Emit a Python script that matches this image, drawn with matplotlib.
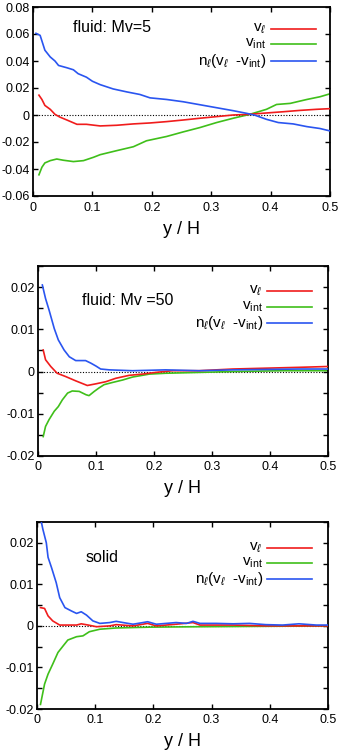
import matplotlib
matplotlib.use("Agg")
import matplotlib.pyplot as plt
import numpy as np
from matplotlib.ticker import FixedLocator, FixedFormatter, MultipleLocator

plt.rcParams['font.family'] = ['Liberation Sans', 'DejaVu Sans']
plt.rcParams['axes.unicode_minus'] = False
plt.rcParams['mathtext.fontset'] = 'custom'
plt.rcParams['mathtext.rm'] = 'Liberation Sans'
plt.rcParams['mathtext.it'] = 'Liberation Sans:italic'
plt.rcParams['mathtext.bf'] = 'Liberation Sans:bold'

# ---------------- Panel 1: fluid Mv=5 ----------------
p1_blue_x = [0.005, 0.012, 0.02, 0.029, 0.037, 0.043, 0.057, 0.068, 0.076, 0.09, 0.10, 0.113, 0.135, 0.158,
             0.18, 0.197, 0.225, 0.253, 0.281, 0.309, 0.337, 0.36, 0.374, 0.393, 0.413, 0.438, 0.461, 0.483, 0.5]
p1_blue_y = [0.0605, 0.059, 0.048, 0.043, 0.040, 0.0367, 0.035, 0.0335, 0.0306, 0.028, 0.025, 0.0225, 0.0193,
             0.0171, 0.0152, 0.0127, 0.0115, 0.0098, 0.0076, 0.0054, 0.0032, 0.0012, -0.0002, -0.0032, -0.0056,
             -0.0066, -0.0086, -0.010, -0.0118]
p1_red_x = [0.01, 0.015, 0.02, 0.029, 0.037, 0.045, 0.057, 0.074, 0.09, 0.113, 0.141, 0.169, 0.197, 0.225,
            0.253, 0.281, 0.309, 0.337, 0.365, 0.393, 0.421, 0.449, 0.477, 0.5]
p1_red_y = [0.0147, 0.0115, 0.0071, 0.0042, 0.0005, -0.0015, -0.0037, -0.0069, -0.0069, -0.0081, -0.0076,
            -0.0066, -0.0059, -0.0049, -0.0037, -0.0024, -0.0012, 0.0, 0.0005, 0.0015, 0.0024, 0.0034, 0.0042,
            0.0047]
p1_green_x = [0.01, 0.015, 0.02, 0.029, 0.04, 0.051, 0.068, 0.085, 0.102, 0.113, 0.141, 0.169, 0.191, 0.225,
              0.253, 0.281, 0.309, 0.337, 0.365, 0.393, 0.41, 0.433, 0.461, 0.483, 0.5]
p1_green_y = [-0.0443, -0.0387, -0.0355, -0.0338, -0.0326, -0.0335, -0.0345, -0.0338, -0.0313, -0.0294,
              -0.0264, -0.0235, -0.0191, -0.0159, -0.0125, -0.0093, -0.0056, -0.0024, 0.0005, 0.0042, 0.0078,
              0.0086, 0.0115, 0.0135, 0.0157]

# ---------------- Panel 2: fluid Mv=50 ----------------
p2_blue_x = [0.0075, 0.013, 0.019, 0.028, 0.035, 0.045, 0.054, 0.065, 0.082, 0.091, 0.1, 0.108, 0.123, 0.163,
             0.22, 0.278, 0.336, 0.393, 0.45, 0.5]
p2_blue_y = [0.0205, 0.0173, 0.0146, 0.0102, 0.0075, 0.0051, 0.0035, 0.0026, 0.0026, 0.002, 0.0013, 0.0006,
             0.0004, 0.0002, 0.0004, 0.0002, 0.0004, 0.0005, 0.0006, 0.0006]
p2_red_x = [0.009, 0.013, 0.022, 0.033, 0.048, 0.065, 0.085, 0.1, 0.117, 0.134, 0.157, 0.18, 0.203, 0.232,
            0.278, 0.336, 0.393, 0.45, 0.5]
p2_red_y = [0.0051, 0.0028, 0.0012, -0.0004, -0.0012, -0.0022, -0.0033, -0.0029, -0.0024, -0.0016, -0.0009,
            -0.0006, -0.0002, 0.0002, 0.0002, 0.0006, 0.0008, 0.001, 0.0012]
p2_green_x = [0.009, 0.013, 0.019, 0.028, 0.035, 0.042, 0.051, 0.059, 0.071, 0.083, 0.088, 0.097, 0.105,
              0.114, 0.128, 0.146, 0.163, 0.192, 0.22, 0.278, 0.336, 0.422, 0.5]
p2_green_y = [-0.0154, -0.013, -0.0114, -0.0094, -0.0083, -0.0067, -0.0051, -0.0046, -0.0047, -0.0055,
              -0.0057, -0.0047, -0.0039, -0.0031, -0.0026, -0.002, -0.0013, -0.0006, -0.0004, -0.0002, 0.0,
              0.0002, 0.0002]

# ---------------- Panel 3: solid ----------------
p3_blue_x = [0.006, 0.01, 0.016, 0.019, 0.025, 0.033, 0.039, 0.048, 0.059, 0.068, 0.076, 0.085, 0.096, 0.108,
             0.125, 0.136, 0.148, 0.165, 0.182, 0.19, 0.205, 0.222, 0.239, 0.257, 0.268, 0.28, 0.308, 0.337,
             0.365, 0.393, 0.422, 0.45, 0.48, 0.5]
p3_blue_y = [0.026, 0.0233, 0.02, 0.0165, 0.014, 0.0104, 0.0068, 0.0044, 0.0036, 0.003, 0.0034, 0.0026,
             0.0012, 0.0006, 0.0008, 0.0011, 0.0008, 0.0004, 0.0008, 0.001, 0.0004, 0.0006, 0.0008, 0.0006,
             0.0011, 0.0006, 0.0006, 0.0005, 0.0006, 0.0003, 0.0002, 0.0005, 0.0002, 0.0002]
p3_red_x = [0.006, 0.013, 0.019, 0.027, 0.039, 0.05, 0.068, 0.076, 0.088, 0.102, 0.125, 0.136, 0.165, 0.19,
            0.205, 0.239, 0.268, 0.28, 0.337, 0.393, 0.5]
p3_red_y = [0.0044, 0.0042, 0.0024, 0.0012, 0.0002, 0.0002, 0.0002, 0.0005, 0.0002, -0.0002, 0.0, 0.0003,
            0.0, 0.0006, 0.0, 0.0004, 0.0008, 0.0002, 0.0002, 0.0, 0.0]
p3_green_x = [0.006, 0.013, 0.019, 0.027, 0.036, 0.045, 0.053, 0.068, 0.079, 0.09, 0.108, 0.136, 0.194,
              0.28, 0.393, 0.5]
p3_green_y = [-0.0189, -0.014, -0.0116, -0.0092, -0.0064, -0.0048, -0.0034, -0.0026, -0.0024, -0.0014,
              -0.0008, -0.0005, -0.0003, -0.0002, -0.0001, 0.0]

x_ticks = [0, 0.1, 0.2, 0.3, 0.4, 0.5]
x_labels = ['0', '0.1', '0.2', '0.3', '0.4', '0.5']
p1_yticks = [-0.06, -0.04, -0.02, 0, 0.02, 0.04, 0.06, 0.08]
p1_ylabels = ['-0.06', '-0.04', '-0.02', '0', '0.02', '0.04', '0.06', '0.08']
p23_yticks = [-0.02, -0.01, 0, 0.01, 0.02]
p23_ylabels = ['-0.02', '-0.01', '0', '0.01', '0.02']

legend_labels = [r'v$_{\ell}$', r'v$_{\rm int}$', r'n$_{\ell}$(v$_{\ell}$  -v$_{\rm int}$)']
titles = ['fluid: Mv=5', 'fluid: Mv =50', 'solid']

RED = '#f01c1c'
GREEN = '#3fbf1a'
BLUE = '#2a55f0'

fig = plt.figure(figsize=(3.46, 7.5), dpi=100)
W, H = 346, 750

def make_axes(l, r, t, b):
    return fig.add_axes([l / W, 1 - b / H, (r - l) / W, (b - t) / H])

ax1 = make_axes(33, 330, 7, 196)
ax2 = make_axes(38, 328, 266, 456)
ax3 = make_axes(37, 328, 522, 709)

panels = [
    (ax1, (p1_red_x, p1_red_y), (p1_green_x, p1_green_y), (p1_blue_x, p1_blue_y), (-0.06, 0.08),
     p1_yticks, p1_ylabels, None, (0.135, 0.89), (0.80, 0.953, 0.785, [0.884, 0.805, 0.716])),
    (ax2, (p2_red_x, p2_red_y), (p2_green_x, p2_green_y), (p2_blue_x, p2_blue_y), (-0.02, 0.025),
     p23_yticks, p23_ylabels, 0.005, (0.15, 0.82), (0.79, 0.945, 0.776, [0.87, 0.785, 0.70])),
    (ax3, (p3_red_x, p3_red_y), (p3_green_x, p3_green_y), (p3_blue_x, p3_blue_y), (-0.02, 0.025),
     p23_yticks, p23_ylabels, 0.005, (0.168, 0.81), (0.79, 0.945, 0.776, [0.86, 0.78, 0.695])),
]

for i, (ax, red, green, blue, ylim, yt, yl, minor, tpos, leg) in enumerate(panels):
    ax.axhline(0, color='black', lw=0.8, ls=(0, (1, 1.5)), zorder=1)
    ax.plot(red[0], red[1], color=RED, lw=1.2, zorder=3)
    ax.plot(green[0], green[1], color=GREEN, lw=1.2, zorder=2)
    ax.plot(blue[0], blue[1], color=BLUE, lw=1.2, zorder=4)
    ax.set_xlim(0, 0.5)
    ax.set_ylim(*ylim)
    ax.xaxis.set_major_locator(FixedLocator(x_ticks))
    ax.xaxis.set_major_formatter(FixedFormatter(x_labels))
    ax.yaxis.set_major_locator(FixedLocator(yt))
    ax.yaxis.set_major_formatter(FixedFormatter(yl))
    if minor:
        ax.yaxis.set_minor_locator(MultipleLocator(minor))
    ax.tick_params(which='both', direction='in', top=True, right=True, length=3.5, width=1.0,
                   labelsize=9)
    ax.tick_params(axis='y', pad=2.5)
    ax.tick_params(axis='x', pad=4.5 if i == 0 else 3.5)
    for s in ax.spines.values():
        s.set_linewidth(1.3)
    ax.set_xlabel('y / H', fontsize=13, labelpad=5 if i == 0 else 5)
    ax.text(tpos[0], tpos[1], titles[i], transform=ax.transAxes, fontsize=11.5, ha='left', va='center')
    x0, x1, xt, ys = leg
    for c, lab, yy in zip([RED, GREEN, BLUE], legend_labels, ys):
        ax.plot([x0, x1], [yy, yy], transform=ax.transAxes, color=c, lw=1.2, clip_on=False)
        ax.text(xt, yy, lab, transform=ax.transAxes, fontsize=11, ha='right', va='center')

fig.savefig('out.png', dpi=100)
